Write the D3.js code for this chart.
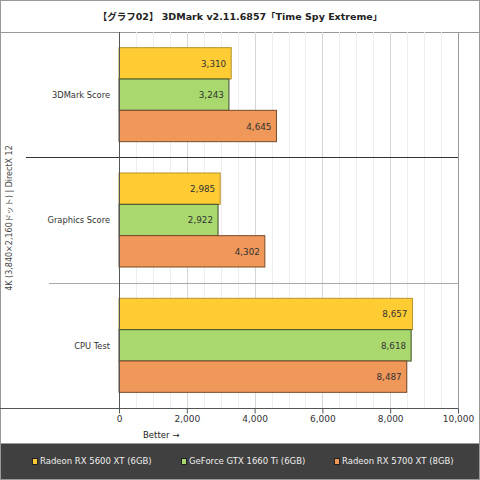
<!DOCTYPE html>
<html lang="ja">
<head>
<meta charset="UTF-8" />
<title>3DMark Time Spy Extreme</title>
<script src="https://d3js.org/d3.v7.min.js"></script>
<style>
  body { margin: 0; background: #fff; }
  svg text { font-family: "DejaVu Sans", "Noto Sans CJK JP", sans-serif; }
</style>
</head>
<body>
<svg id="chart" width="480" height="480"></svg>
<script>
  const categories = ["3DMark Score", "Graphics Score", "CPU Test"];
  const seriesNames = ["Radeon RX 5600 XT (6GB)", "GeForce GTX 1660 Ti (6GB)", "Radeon RX 5700 XT (8GB)"];
  const rx5600 = [3310, 2985, 8657];
  const gtx1660 = [3243, 2922, 8618];
  const rx5700 = [4645, 4302, 8487];
  const xTicks = [0, 2000, 4000, 6000, 8000, 10000];

  const colors = ["#ffcc33", "#a9d86e", "#f0975a"];
  const strokes = ["#b8932a", "#3d4a2a", "#7a4a2a"];

  const svg = d3.select("#chart");
  const W = 480, H = 480;
  const plotL = 119, plotR = 458, plotT = 32, plotB = 408;

  const x = d3.scaleLinear().domain([0, 10000]).range([plotL, plotR]);
  const y0 = d3.scaleBand().domain(categories).range([plotT, plotB]);
  const y1 = d3.scaleBand().domain(seriesNames).range([0, y0.bandwidth()]).paddingOuter(0.5);

  const values = [rx5600, gtx1660, rx5700];
  const fmt = d3.format(",");

  // frame + title
  svg.append("rect").attr("x", 0.5).attr("y", 0.5).attr("width", W - 1).attr("height", H - 1)
    .attr("fill", "#fff").attr("stroke", "#999");
  svg.append("text").attr("x", 240).attr("y", 20).attr("text-anchor", "middle")
    .attr("font-size", 9.5).attr("font-weight", "bold").attr("fill", "#222")
    .text("【グラフ02】 3DMark v2.11.6857「Time Spy Extreme」");
  svg.append("line").attr("x1", 0).attr("x2", W).attr("y1", plotT + 0.5).attr("y2", plotT + 0.5)
    .attr("stroke", "#999");

  // grid
  const minor = d3.range(500, 10000, 500).filter(d => d % 2000 !== 0);
  svg.append("g").selectAll("line").data(minor).join("line")
    .attr("x1", d => Math.round(x(d)) + 0.5).attr("x2", d => Math.round(x(d)) + 0.5)
    .attr("y1", plotT).attr("y2", plotB).attr("stroke", "#eeeeee");
  svg.append("g").selectAll("line").data(xTicks.slice(1, -1)).join("line")
    .attr("x1", d => Math.round(x(d)) + 0.5).attr("x2", d => Math.round(x(d)) + 0.5)
    .attr("y1", plotT).attr("y2", plotB).attr("stroke", "#d6d6d6");
  svg.append("line").attr("x1", plotR + 0.5).attr("x2", plotR + 0.5).attr("y1", plotT).attr("y2", plotB)
    .attr("stroke", "#999");

  // group separators
  svg.append("line").attr("x1", 26).attr("x2", plotR).attr("y1", Math.round(y0(categories[1])) + 0.5)
    .attr("y2", Math.round(y0(categories[1])) + 0.5).attr("stroke", "#333");
  svg.append("line").attr("x1", 49).attr("x2", plotR).attr("y1", Math.round(y0(categories[2])) + 0.5)
    .attr("y2", Math.round(y0(categories[2])) + 0.5).attr("stroke", "#aaa");

  // bars
  const groups = svg.append("g").selectAll("g").data(categories).join("g")
    .attr("transform", d => `translate(0,${y0(d)})`);
  groups.each(function (cat, ci) {
    const g = d3.select(this);
    seriesNames.forEach((s, si) => {
      const v = values[si][ci];
      g.append("rect")
        .attr("x", x(0)).attr("y", y1(s))
        .attr("width", x(v) - x(0)).attr("height", y1.bandwidth())
        .attr("fill", colors[si]).attr("stroke", strokes[si]).attr("stroke-width", 1);
      g.append("text")
        .attr("x", x(v) - 5).attr("y", y1(s) + y1.bandwidth() / 2 + 3.5)
        .attr("text-anchor", "end").attr("font-size", 8.8).attr("fill", "#333")
        .text(fmt(v));
    });
    g.append("text").attr("x", 110).attr("y", y0.bandwidth() / 2 + 3.5)
      .attr("text-anchor", "end").attr("font-size", 8.3).attr("fill", "#333").text(cat);
  });

  // axis line at zero
  svg.append("line").attr("x1", plotL + 0.5).attr("x2", plotL + 0.5).attr("y1", plotT).attr("y2", plotB + 5)
    .attr("stroke", "#555");

  // x axis
  const xAxis = svg.append("g").attr("transform", `translate(0,${plotB + 0.5})`)
    .call(d3.axisBottom(x).tickValues(xTicks).tickFormat(fmt).tickSize(5).tickSizeOuter(0));
  xAxis.select(".domain").remove();
  xAxis.append("line").attr("x1", 0).attr("x2", plotR + 0.5).attr("stroke", "#555");
  xAxis.selectAll(".tick line").attr("stroke", "#555");
  xAxis.selectAll(".tick text").attr("font-size", 9).attr("fill", "#333").attr("dy", "0.6em")
    .style("font-family", "DejaVu Sans, sans-serif");

  svg.append("text").attr("x", 143).attr("y", 438).attr("font-size", 8.5).attr("fill", "#222")
    .text("Better →");

  // y title
  svg.append("text").attr("transform", "translate(12,218) rotate(-90)")
    .attr("text-anchor", "middle").attr("font-size", 8).attr("fill", "#444")
    .text("4K (3,840×2,160ドット) | DirectX 12");

  // legend
  svg.append("rect").attr("x", 0.5).attr("y", 443.5).attr("width", W - 1).attr("height", 36)
    .attr("fill", "#404040").attr("stroke", "#999");
  const legX = [32, 181, 334];
  seriesNames.forEach((s, i) => {
    svg.append("rect").attr("x", legX[i] + 0.5).attr("y", 458.5).attr("width", 5).attr("height", 6)
      .attr("fill", colors[i]).attr("stroke", "#222");
    svg.append("text").attr("x", legX[i] + 8).attr("y", 464).attr("font-size", 8.5)
      .attr("fill", "#eee").text(s);
  });
</script>
</body>
</html>
